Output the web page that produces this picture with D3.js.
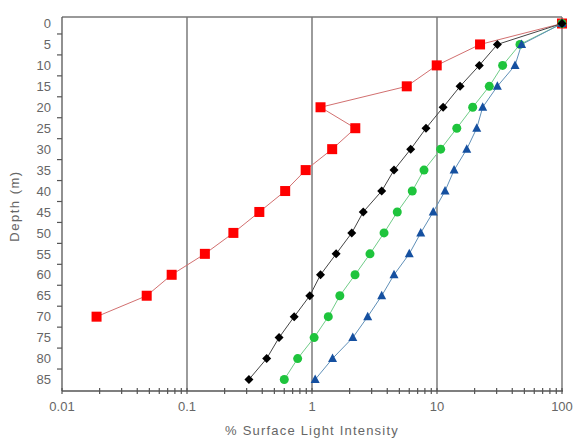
<!DOCTYPE html>
<html><head><meta charset="utf-8">
<script src="https://cdn.jsdelivr.net/npm/d3@7"></script>
<style>body{margin:0;background:#fff}svg{display:block}text{font-family:"Liberation Sans",Arial,sans-serif;fill:#666}</style>
</head><body><svg id="c" width="580" height="445"></svg>
<script>
const depths = [0,5,10,15,20,25,30,35,40,45,50,55,60,65,70,75,80,85];
const redValues   = [100,22.1,9.95,5.73,1.17,2.22,1.45,0.89,0.61,0.379,0.235,0.139,0.0754,0.0476,0.0189];
const blackValues = [100,30.4,21.8,15.3,11.2,8.17,6.16,4.53,3.61,2.57,2.08,1.56,1.17,0.96,0.72,0.545,0.434,0.313];
const greenValues = [100,46.1,33.5,26.2,19.3,14.4,10.7,7.87,6.34,4.81,3.77,2.91,2.21,1.67,1.35,1.04,0.768,0.60];
const blueValues  = [100,47.5,42.1,30.4,23.2,20.8,17.3,13.7,11.6,9.33,7.41,6.0,4.53,3.61,2.79,2.12,1.46,1.06];
const xTicks = [0.01,0.1,1,10,100];
const xTickLabels = ["0.01","0.1","1","10","100"];
const xTitle = "% Surface Light Intensity";
const yTitle = "Depth (m)";

const L=62,R=562,T=17,B=391;
const svg=d3.select("#c");
const x=d3.scaleLog().domain([0.01,100]).range([L,R]);
const y=d3.scalePoint().domain(depths).range([23.5,379.5]);
const step=y.step();

svg.append("g").selectAll("line").data(xTicks.slice(1)).join("line")
  .attr("x1",d=>x(d)).attr("x2",d=>x(d)).attr("y1",T).attr("y2",B)
  .attr("stroke","#666").attr("stroke-width",1.3);
svg.append("line").attr("x1",L).attr("x2",R).attr("y1",T).attr("y2",T).attr("stroke","#777").attr("stroke-width",1.3);
svg.append("line").attr("x1",L).attr("x2",L).attr("y1",T).attr("y2",B).attr("stroke","#555").attr("stroke-width",1.3);
svg.append("line").attr("x1",L).attr("x2",R+1).attr("y1",B).attr("y2",B).attr("stroke","#555").attr("stroke-width",1.3);

const yTickPos=depths.slice(0,-1).map(d=>y(d)+step/2);
svg.append("g").selectAll("line").data(yTickPos).join("line")
  .attr("x1",L-5).attr("x2",L).attr("y1",d=>d).attr("y2",d=>d).attr("stroke","#555").attr("stroke-width",1.2);
svg.append("g").selectAll("text").data(depths).join("text")
  .attr("x",L-11).attr("y",d=>y(d)).attr("dy","0.36em").attr("text-anchor","end")
  .attr("font-size",13).text(d=>d);

const minor=[];
for(let e=-2;e<2;e++){for(let m=1;m<10;m++){minor.push(m*Math.pow(10,e));}}
minor.push(100);
svg.append("g").selectAll("line").data(minor).join("line")
  .attr("x1",d=>x(d)).attr("x2",d=>x(d)).attr("y1",B-3).attr("y2",B+3)
  .attr("stroke","#555").attr("stroke-width",1.2);
svg.append("g").selectAll("text").data(xTicks).join("text")
  .attr("x",d=>x(d)).attr("y",B+20).attr("text-anchor","middle").attr("font-size",13)
  .text((d,i)=>xTickLabels[i]);

svg.append("text").attr("x",(L+R)/2).attr("y",435).attr("text-anchor","middle")
  .attr("font-size",13).attr("letter-spacing",1.2).text(xTitle);
svg.append("text").attr("transform","translate(19,206) rotate(-90)").attr("text-anchor","middle")
  .attr("font-size",13).attr("letter-spacing",1.5).text(yTitle);

const line=d3.line().x(d=>x(d.v)).y(d=>y(d.d));
function series(vals,lineColor,draw){
  const data=vals.map((v,i)=>({v,d:depths[i]}));
  svg.append("path").datum(data).attr("d",line).attr("fill","none").attr("stroke",lineColor).attr("stroke-width",1);
  const g=svg.append("g");
  data.forEach(p=>draw(g,x(p.v),y(p.d)));
}
series(redValues,"#d27070",(g,cx,cy)=>g.append("rect").attr("x",cx-5).attr("y",cy-5).attr("width",10).attr("height",10).attr("fill","#f00"));
series(greenValues,"#70cc88",(g,cx,cy)=>g.append("circle").attr("cx",cx).attr("cy",cy).attr("r",4.5).attr("fill","#1ec43c"));
series(blueValues,"#6090b8",(g,cx,cy)=>g.append("path").attr("d",`M${cx},${cy-5}L${cx+4.5},${cy+3.5}L${cx-4.5},${cy+3.5}Z`).attr("fill","#1550a0"));
series(blackValues,"#444",(g,cx,cy)=>g.append("path").attr("d",`M${cx},${cy-4.5}L${cx+4.5},${cy}L${cx},${cy+4.5}L${cx-4.5},${cy}Z`).attr("fill","#000"));
</script></body></html>
